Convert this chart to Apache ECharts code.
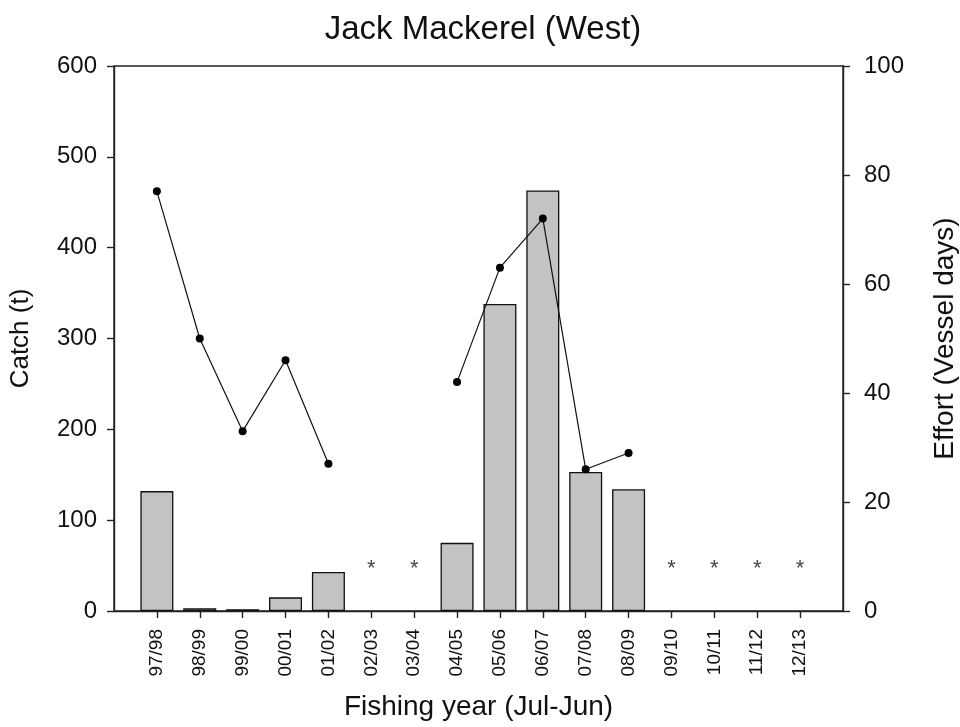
<!DOCTYPE html>
<html>
<head>
<meta charset="utf-8">
<script src="https://cdn.jsdelivr.net/npm/echarts@6/dist/echarts.min.js"></script>
<style>html,body{margin:0;padding:0;background:#fff;}#c{width:960px;height:727px;}</style>
</head>
<body>
<div id="c"></div>
<script>
const years = ['97/98','98/99','99/00','00/01','01/02','02/03','03/04','04/05','05/06','06/07','07/08','08/09','09/10','10/11','11/12','12/13'];
const catch_t = [132, 3, 2, 15, 43, null, null, 75, 338, 463, 153, 134, null, null, null, null];
const effort = [77, 50, 33, 46, 27, null, null, 42, 63, 72, 26, 29, null, null, null, null];
const confidential = [null, null, null, null, null, 50, 50, null, null, null, null, null, 50, 50, 50, 50];
const leftTicks = [0, 100, 200, 300, 400, 500, 600];
const rightTicks = [0, 20, 40, 60, 80, 100];

const cats = [''].concat(years, ['']);
const pad = a => [null].concat(a, [null]);
const font = 'Liberation Sans, Arial, sans-serif';
const chart = echarts.init(document.getElementById('c'));
const showIdx = (i) => i > 0 && i < cats.length - 1;
chart.setOption({
  animation: false,
  title: { text: 'Jack Mackerel (West)', left: 478, top: 8, textAlign: 'center',
    textStyle: { fontFamily: font, fontSize: 33, fontWeight: 'normal', color: '#111' } },
  grid: { left: 114, right: 117, top: 66, bottom: 116, show: true, borderColor: '#222', borderWidth: 1.4,
    backgroundColor: 'transparent', containLabel: false, outerBoundsMode: 'none' },
  xAxis: {
    type: 'category', data: cats, boundaryGap: false,
    name: 'Fishing year (Jul-Jun)', nameLocation: 'middle', nameGap: 82,
    nameTextStyle: { fontFamily: font, fontSize: 28, color: '#111' },
    axisLine: { lineStyle: { color: '#222', width: 1.4 } },
    axisTick: { show: true, length: 7, interval: (i) => showIdx(i), lineStyle: { color: '#222', width: 1.4 } },
    axisLabel: { rotate: 90, fontFamily: font, fontSize: 19, color: '#111', margin: 18, interval: (i) => showIdx(i) },
    splitLine: { show: false }
  },
  yAxis: [
    { type: 'value', min: 0, max: 600, interval: 100, position: 'left',
      name: 'Catch (t)', nameLocation: 'middle', nameGap: 80, nameRotate: 90,
      nameTextStyle: { fontFamily: font, fontSize: 26, color: '#111' },
      axisLine: { show: true, lineStyle: { color: '#222', width: 1.4 } },
      axisTick: { show: true, length: 7, lineStyle: { color: '#222', width: 1.4 } },
      axisLabel: { fontFamily: font, fontSize: 24, color: '#111', margin: 17 },
      splitLine: { show: false } },
    { type: 'value', min: 0, max: 100, interval: 20, position: 'right',
      name: 'Effort (Vessel days)', nameLocation: 'middle', nameGap: 88, nameRotate: 90,
      nameTextStyle: { fontFamily: font, fontSize: 28, color: '#111' },
      axisLine: { show: true, lineStyle: { color: '#222', width: 1.4 } },
      axisTick: { show: true, length: 7, lineStyle: { color: '#222', width: 1.4 } },
      axisLabel: { fontFamily: font, fontSize: 24, color: '#111', margin: 21 },
      splitLine: { show: false } }
  ],
  series: [
    { type: 'bar', data: pad(catch_t), yAxisIndex: 0, barWidth: 33,
      itemStyle: { color: '#c3c3c3', borderColor: '#111', borderWidth: 1.3 } },
    { type: 'line', data: pad(effort), yAxisIndex: 1, connectNulls: false,
      symbol: 'circle', symbolSize: 8, showSymbol: true,
      lineStyle: { color: '#111', width: 1.2 }, itemStyle: { color: '#000' } },
    { type: 'scatter', data: pad(confidential), yAxisIndex: 0, symbolSize: 1,
      itemStyle: { color: 'rgba(0,0,0,0)' },
      label: { show: true, formatter: '*', position: 'inside', fontFamily: font, fontSize: 22, color: '#111', offset: [0, 3] } }
  ]
});
</script>
</body>
</html>
